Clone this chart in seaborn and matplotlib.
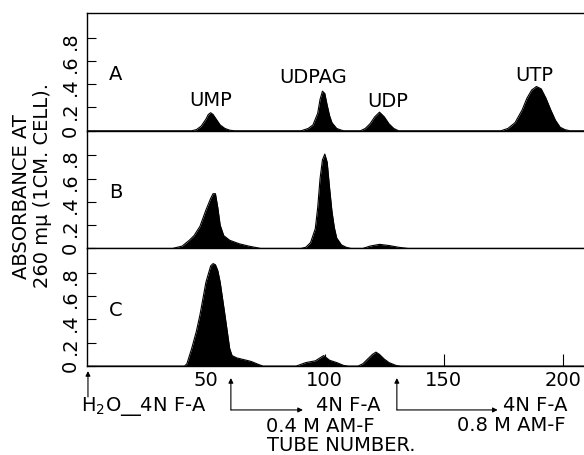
import pandas as pd
import seaborn as sns
import matplotlib.pyplot as plt

# tube number / absorbance
tube_a = [0, 44, 46, 48, 50, 51, 52, 53, 54, 56, 58, 60, 62,
          90, 93, 95, 97, 98, 99, 100, 101, 102, 103, 105, 107, 108,
          115, 117, 119, 121, 123, 125, 127, 129, 131,
          174, 177, 180, 183, 185, 187, 189, 191, 193, 195, 197, 199, 201, 203, 210]
abs_a = [0, 0, 0.01, 0.04, 0.10, 0.14, 0.155, 0.14, 0.11, 0.05, 0.02, 0.005, 0,
         0, 0.02, 0.05, 0.15, 0.27, 0.34, 0.32, 0.22, 0.13, 0.07, 0.02, 0.005, 0,
         0, 0.02, 0.06, 0.12, 0.16, 0.12, 0.06, 0.02, 0,
         0, 0.02, 0.07, 0.18, 0.28, 0.35, 0.38, 0.36, 0.28, 0.18, 0.09, 0.03, 0.01, 0, 0]

tube_b = [0, 36, 40, 43, 45, 47.5, 50, 52, 53, 54, 55, 56, 57.5, 60, 64, 68, 73,
          90, 92, 94, 96, 97, 98, 99, 100, 101, 102, 103, 104, 105, 107, 109, 111,
          116, 119, 123, 127, 131, 135, 210]
abs_b = [0, 0, 0.02, 0.07, 0.11, 0.19, 0.33, 0.43, 0.47, 0.47, 0.35, 0.20, 0.11, 0.07, 0.04, 0.02, 0,
         0, 0.01, 0.05, 0.17, 0.35, 0.60, 0.76, 0.81, 0.74, 0.52, 0.32, 0.18, 0.09, 0.03, 0.01, 0,
         0, 0.02, 0.035, 0.025, 0.01, 0, 0]

tube_c = [0, 41, 42, 44, 46, 47.5, 50, 52, 53, 54, 55, 56, 58, 60, 61, 63, 66, 69, 72, 74,
          88, 92, 96, 99.5, 102, 105, 108, 110,
          114, 116, 118, 120, 121.5, 123, 125, 127, 130, 132, 210]
abs_c = [0, 0, 0.02, 0.15, 0.30, 0.44, 0.72, 0.86, 0.88, 0.87, 0.82, 0.72, 0.44, 0.15, 0.09, 0.07, 0.055, 0.04, 0.015, 0,
         0, 0.03, 0.045, 0.09, 0.05, 0.03, 0.005, 0,
         0, 0.02, 0.06, 0.10, 0.12, 0.10, 0.06, 0.03, 0.005, 0, 0]

panel_names = ['A', 'B', 'C']
peak_names = ['UMP', 'UDPAG', 'UDP', 'UTP']
peak_label_x = [52, 95, 126.5, 188]
peak_label_y = [0.27, 0.47, 0.26, 0.48]
y_ticks = [0, 0.2, 0.4, 0.6, 0.8]
y_tick_labels = ['0', '.2', '.4', '.6', '.8']
x_ticks = [50, 100, 150, 200]
x_tick_labels = ['50', '100', '150', '200']

sns.set_style("white")
plt.rcParams['font.family'] = ['DejaVu Sans']
plt.rcParams['text.color'] = 'black'
plt.rcParams['xtick.color'] = 'black'
plt.rcParams['ytick.color'] = 'black'
FS = 14

fig, axes = plt.subplots(3, 1, figsize=(5.84, 4.56), dpi=100)
fig.subplots_adjust(left=0.149, right=1.0, top=0.969, bottom=0.195, hspace=0)

profiles = [(tube_a, abs_a), (tube_b, abs_b), (tube_c, abs_c)]
for i, (ax, (tubes, vals)) in enumerate(zip(axes, profiles)):
    df = pd.DataFrame({'tube': tubes, 'absorbance': vals})
    sns.lineplot(data=df, x='tube', y='absorbance', ax=ax, color='black',
                 lw=0.8, estimator=None, sort=False)
    ax.fill_between(df['tube'], df['absorbance'], color='black', lw=0)
    ax.patch.set_alpha(0)
    ax.set_xlim(0, 209)
    ax.set_ylim(0, 1.01)
    ax.set_xlabel('')
    ax.set_ylabel('')
    ax.set_yticks(y_ticks, labels=y_tick_labels)
    ax.tick_params(axis='y', direction='in', length=6.5, width=0.8, labelsize=FS,
                   labelrotation=90, pad=5, left=True)
    ax.spines['right'].set_visible(False)
    for s in ax.spines.values():
        s.set_linewidth(1.0)
        s.set_color('black')
    if i > 0:
        ax.spines['top'].set_visible(False)
    ax.text(12, 0.49, panel_names[i], ha='center', va='center', fontsize=FS)
    if i < 2:
        ax.tick_params(axis='x', bottom=False, labelbottom=False)

for name, px, py in zip(peak_names, peak_label_x, peak_label_y):
    axes[0].text(px, py, name, ha='center', va='center', fontsize=FS)

ax_c = axes[2]
ax_c.set_xticks(x_ticks, labels=x_tick_labels)
ax_c.tick_params(axis='x', direction='in', length=9, width=0.8, labelsize=FS,
                 pad=3, bottom=True)

# annotations under the x axis (y given as fraction of bottom panel)
trans = ax_c.get_xaxis_transform()


def fy(py):
    return (367 - py) / 118


arrow = dict(arrowstyle='-|>', color='black', lw=0.8, mutation_scale=7,
             shrinkA=0, shrinkB=0)
ax_c.annotate('', xy=(0.4, fy(372)), xytext=(0.4, fy(398)), xycoords=trans,
              textcoords=trans, arrowprops=arrow, annotation_clip=False)
for x0, x1 in [(60.5, 90.8), (130.3, 172.7)]:
    ax_c.annotate('', xy=(x0, fy(379)), xytext=(x0, fy(411)), xycoords=trans,
                  textcoords=trans, arrowprops=arrow, annotation_clip=False)
    ax_c.annotate('', xy=(x1, fy(411)), xytext=(x0, fy(411)), xycoords=trans,
                  textcoords=trans, arrowprops=arrow, annotation_clip=False)

ax_c.text(23.7, fy(411), 'H$_2$O__4N F-A', transform=trans, ha='center',
          va='baseline', fontsize=FS)
ax_c.text(109.7, fy(411), '4N F-A', transform=trans, ha='center', va='baseline', fontsize=FS)
ax_c.text(97.9, fy(432), '0.4 M AM-F', transform=trans, ha='center', va='baseline', fontsize=FS)
ax_c.text(174.8, fy(411), '4N F-A', transform=trans, ha='left', va='baseline', fontsize=FS)
ax_c.text(155.5, fy(431), '0.8 M AM-F', transform=trans, ha='left', va='baseline', fontsize=FS)
ax_c.text(107, fy(451), 'TUBE NUMBER.', transform=trans, ha='center', va='baseline', fontsize=FS)

fig.text(0.036, 0.568, 'ABSORBANCE AT', rotation=90, ha='center', va='center', fontsize=FS)
fig.text(0.072, 0.594, '260 m\u03bc (1CM. CELL).', rotation=90, ha='center', va='center', fontsize=FS)

fig.savefig('out.png', dpi=100)
